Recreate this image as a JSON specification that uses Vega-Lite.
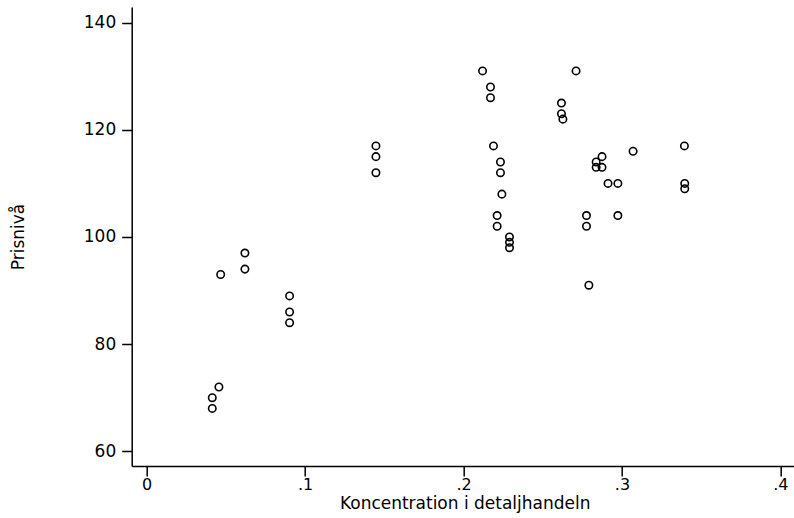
{
  "$schema": "https://vega.github.io/schema/vega-lite/v6.json",
  "autosize": {"type": "none"},
  "padding": {"left": 131.7, "top": 7, "right": 0, "bottom": 52},
  "width": 666,
  "height": 459,
  "background": "white",
  "config": {"view": {"stroke": null}},
  "data": {"values": [
    {"konc": 0.0414, "pris": 68},
    {"konc": 0.0414, "pris": 70},
    {"konc": 0.0456, "pris": 72},
    {"konc": 0.0467, "pris": 93},
    {"konc": 0.0620, "pris": 97},
    {"konc": 0.0620, "pris": 94},
    {"konc": 0.0902, "pris": 89},
    {"konc": 0.0902, "pris": 86},
    {"konc": 0.0902, "pris": 84},
    {"konc": 0.1447, "pris": 117},
    {"konc": 0.1447, "pris": 115},
    {"konc": 0.1447, "pris": 112},
    {"konc": 0.2120, "pris": 131},
    {"konc": 0.2170, "pris": 128},
    {"konc": 0.2170, "pris": 126},
    {"konc": 0.2189, "pris": 117},
    {"konc": 0.2212, "pris": 104},
    {"konc": 0.2212, "pris": 102},
    {"konc": 0.2233, "pris": 114},
    {"konc": 0.2233, "pris": 112},
    {"konc": 0.2242, "pris": 108},
    {"konc": 0.2290, "pris": 100},
    {"konc": 0.2290, "pris": 99},
    {"konc": 0.2290, "pris": 98},
    {"konc": 0.2618, "pris": 125},
    {"konc": 0.2618, "pris": 123},
    {"konc": 0.2627, "pris": 122},
    {"konc": 0.2710, "pris": 131},
    {"konc": 0.2776, "pris": 104},
    {"konc": 0.2776, "pris": 102},
    {"konc": 0.2791, "pris": 91},
    {"konc": 0.2837, "pris": 114},
    {"konc": 0.2837, "pris": 113},
    {"konc": 0.2874, "pris": 115},
    {"konc": 0.2874, "pris": 113},
    {"konc": 0.2912, "pris": 110},
    {"konc": 0.2974, "pris": 110},
    {"konc": 0.2974, "pris": 104},
    {"konc": 0.3070, "pris": 116},
    {"konc": 0.3394, "pris": 117},
    {"konc": 0.3396, "pris": 110},
    {"konc": 0.3396, "pris": 109}
  ]},
  "mark": {"type": "point", "shape": "circle", "filled": false, "color": "black", "strokeWidth": 1.6, "size": 55, "opacity": 1},
  "encoding": {
    "x": {
      "field": "konc", "type": "quantitative",
      "scale": {"domain": [-0.00946, 0.4109], "nice": false, "zero": false},
      "axis": {
        "title": "Koncentration i detaljhandeln",
        "values": [0, 0.1, 0.2, 0.3, 0.4],
        "labelExpr": "datum.value == 0 ? '0' : replace(format(datum.value, '.1f'), '0.', '.')",
        "grid": false,
        "domainColor": "black", "domainWidth": 1.5,
        "tickColor": "black", "tickWidth": 1.5, "tickSize": 10,
        "labelColor": "black", "labelFont": "DejaVu Sans", "labelFontSize": 16, "labelPadding": 1,
        "labelFlush": false,
        "titleColor": "black", "titleFont": "DejaVu Sans", "titleFontSize": 17, "titleFontWeight": "normal",
        "titleBaseline": "alphabetic", "titleY": 43
      }
    },
    "y": {
      "field": "pris", "type": "quantitative",
      "scale": {"domain": [57.25, 142.93], "nice": false, "zero": false},
      "axis": {
        "title": "Prisnivå",
        "values": [60, 80, 100, 120, 140],
        "grid": false,
        "domainColor": "black", "domainWidth": 1.5,
        "tickColor": "black", "tickWidth": 1.5, "tickSize": 10,
        "labelColor": "black", "labelFont": "DejaVu Sans", "labelFontSize": 17, "labelPadding": 6,
        "labelFlush": false,
        "titleColor": "black", "titleFont": "DejaVu Sans", "titleFontSize": 17, "titleFontWeight": "normal",
        "titleAngle": 270, "titleBaseline": "middle", "titleAlign": "center",
        "titleX": -113, "titleY": 229.5
      }
    }
  }
}
